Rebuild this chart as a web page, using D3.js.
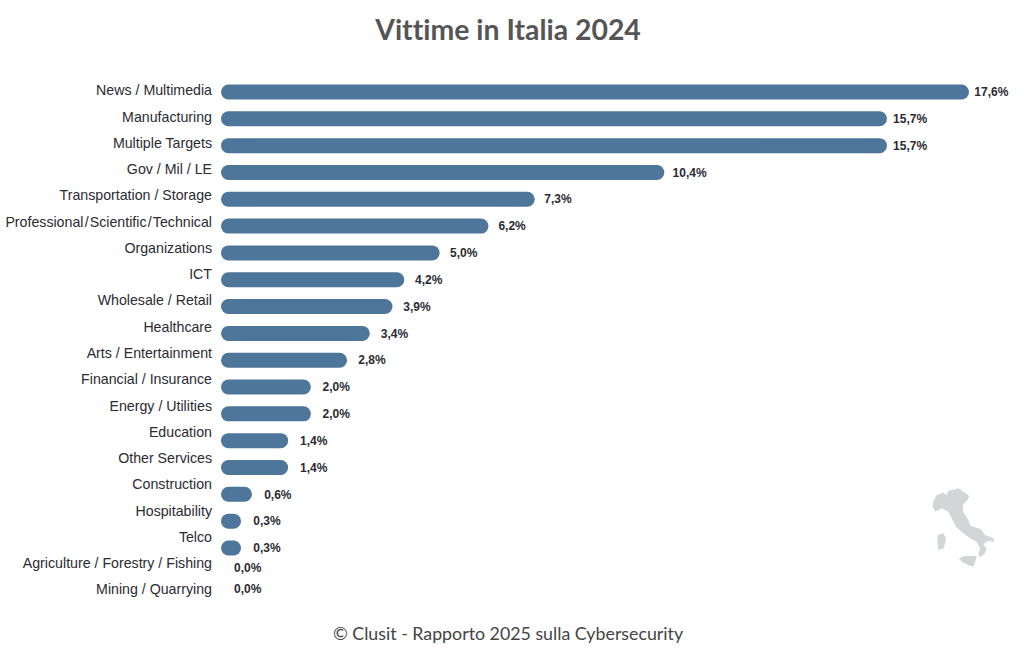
<!DOCTYPE html>
<html>
<head>
<meta charset="utf-8">
<script src="https://d3js.org/d3.v7.min.js"></script>
<style>
  html, body { margin: 0; padding: 0; background: #fff; }
  .tick text { font-family: "Liberation Sans", Arial, sans-serif; font-size: 14.2px; fill: #2b2b33; }
</style>
</head>
<body>
<div id="chart"></div>
<script>
// data
var categories = ["News / Multimedia", "Manufacturing", "Multiple Targets", "Gov / Mil / LE",
  "Transportation / Storage", "Professional\u200a/\u200aScientific\u200a/\u200aTechnical", "Organizations", "ICT",
  "Wholesale / Retail", "Healthcare", "Arts / Entertainment", "Financial / Insurance",
  "Energy / Utilities", "Education", "Other Services", "Construction", "Hospitability",
  "Telco", "Agriculture / Forestry / Fishing", "Mining / Quarrying"];
var values = [17.6, 15.65, 15.65, 10.36, 7.28, 6.18, 5.02, 4.18, 3.9, 3.36, 2.82, 1.96, 1.96,
  1.42, 1.42, 0.56, 0.3, 0.3, 0, 0];
var chartTitle = "Vittime in Italia 2024";
var footer = "\u00a9 Clusit - Rapporto 2025 sulla Cybersecurity";

// italy silhouette, decoration only
var italy = "M160,95L170,75L190,68L200,75L205,63L235,55L250,65L268,78L262,90L248,105L250,125L265,150L272,168L295,175L305,180L315,195L340,205L343,217L330,212L318,215L310,225L320,235L315,250L300,262L295,255L300,235L290,215L270,205L250,190L228,170L215,145L205,125L185,115L165,125L158,110Z" +
  "M173,195L190,190L198,205L192,235L175,240L172,215Z" +
  "M237,265L255,258L285,258L290,262L280,290L265,285L245,275Z";

var width = 1024, height = 650, x0 = 221, barH = 15, capW = 7.4;
var formatValue = d3.formatLocale({decimal: ",", thousands: ".", grouping: [3], currency: ["", "€"]}).format(".1f");

var svg = d3.select("#chart")
  .append("svg")
    .attr("width", width)
    .attr("height", height)
    .style("display", "block");

var x = d3.scaleLinear().domain([0, 17.6]).range([0, 740.6]);
// bars and category labels do not share the same spacing in the original
var y = d3.scalePoint().domain(categories).range([92, 92.4 + 19 * 26.8]);
var yLabel = d3.scalePoint().domain(categories).range([90.3, 589.3]);
var yZero = d3.scalePoint().domain(categories.filter(function (c, i) { return values[i] === 0; })).range([568, 589]);

var rows = categories.map(function (c, i) { return {cat: c, val: values[i]}; });

// title
svg.append("text")
  .attr("x", 508)
  .attr("y", 40)
  .attr("text-anchor", "middle")
  .style("font-family", "Lato, sans-serif")
  .style("font-weight", "700")
  .style("font-size", "28.4px")
  .style("font-variant-ligatures", "none")
  .style("fill", "#555555")
  .text(chartTitle);

// category labels
svg.append("g")
  .attr("transform", "translate(" + x0 + ",0)")
  .call(d3.axisLeft(yLabel).tickSize(0).tickPadding(9))
  .call(function (g) { g.select(".domain").remove(); });

// bars
svg.append("g")
  .selectAll("rect")
  .data(rows.filter(function (d) { return d.val > 0; }))
  .enter()
  .append("rect")
    .attr("x", x0)
    .attr("y", function (d) { return y(d.cat) - barH / 2; })
    .attr("width", function (d) { return x(d.val) + capW; })
    .attr("height", barH)
    .attr("rx", 7.5)
    .style("fill", "#4d769a");

// value labels
svg.append("g")
  .selectAll("text")
  .data(rows)
  .enter()
  .append("text")
    .attr("x", function (d) {
      if (d.val === 0) return 234;
      return x0 + x(d.val) + capW + 12.4 - 0.4 * d.val;
    })
    .attr("y", function (d) { return d.val === 0 ? yZero(d.cat) : y(d.cat); })
    .attr("dy", "0.35em")
    .style("font-family", "\"Liberation Sans\", Arial, sans-serif")
    .style("font-weight", "700")
    .style("font-size", "12px")
    .style("fill", "#2b2b33")
    .text(function (d) { return formatValue(d.val) + "%"; });

// map
svg.append("path")
  .attr("transform", "translate(880,470) scale(0.3333)")
  .attr("d", italy)
  .style("fill", "#d3d6d6");

// footer
svg.append("text")
  .attr("x", 508)
  .attr("y", 639.5)
  .attr("text-anchor", "middle")
  .style("font-family", "Lato, sans-serif")
  .style("font-size", "17.8px")
  .style("font-variant-ligatures", "none")
  .style("fill", "#444444")
  .text(footer);
</script>
</body>
</html>
